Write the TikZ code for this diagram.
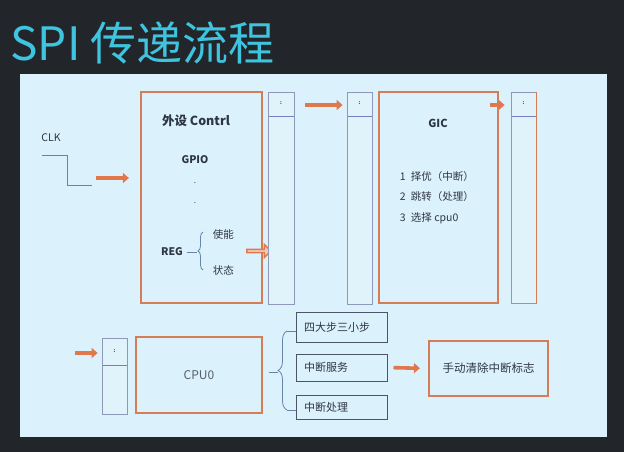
\documentclass[tikz,border=0pt]{standalone}
\usepackage{fontspec}
\setmainfont{Noto Sans CJK SC}
\usetikzlibrary{arrows.meta, positioning, calc, decorations.pathreplacing, shapes.arrows}
\definecolor{slate}{HTML}{22262A}
\definecolor{panel}{HTML}{DBF1FB}
\definecolor{qfill}{HTML}{E0F3FB}
\definecolor{titlecyan}{HTML}{3FC4DF}
\definecolor{rust}{HTML}{D57D55}
\definecolor{arrowor}{HTML}{E0784C}
\definecolor{steel}{HTML}{8E98B8}
\definecolor{divblue}{HTML}{6F82C2}
\definecolor{ink}{HTML}{2E3644}
\definecolor{clkblue}{HTML}{6785A8}
\definecolor{boxgray}{HTML}{4C5566}

\begin{document}
\begin{tikzpicture}[x=1pt, y=-1pt, line width=1pt,
  orangebox/.style={draw=rust, line width=2.2pt, inner sep=0pt},
  queue/.style={draw=steel, line width=0.8pt, fill=qfill, inner sep=0pt,
    path picture={\draw[divblue, line width=1pt]
      ([yshift=-24pt]path picture bounding box.north west) --
      ([yshift=-24pt]path picture bounding box.north east);}},
  dotmark/.style={font=\tiny\bfseries, text=ink, inner sep=0pt},
  stepbox/.style={draw=boxgray, line width=1pt, text width=75pt, inner xsep=8pt,
    align=left, font=\fontsize{11}{12}\selectfont, text=ink},
  txt/.style={font=\fontsize{10.5}{12}\selectfont, text=ink},
  fat/.style={draw=arrowor, line width=3.6pt, -{Triangle[length=6pt, width=10pt]}}]

% Background
\fill[slate] (0,0) rectangle (624,452);
\fill[panel] (20,74) rectangle (607,437);

% Title
\node[anchor=base west, font=\fontsize{46}{46}\selectfont, text=titlecyan, inner sep=0pt]
  (title) at (10,61) {SPI 传递流程};

% --- CLK ---
\node[txt] (clk) at (51,138) {CLK};
\draw[clkblue, line width=1pt] (42,155) -- (67,155) -- (67,185) -- (92,185);
\coordinate (clkout) at (96,178);

% --- Peripheral controller ---
\node[orangebox, minimum width=121, minimum height=211] (periph) at (201.5,197.5) {};
\node[font=\fontsize{12.5}{14}\selectfont\bfseries, text=ink] (ptitle) at (196,121) {外设 Contrl};
\node[txt, font=\fontsize{10.5}{12}\selectfont\bfseries] (gpio) at (195,160) {GPIO};
\node[dotmark] (dot1) at (195,183) {.};
\node[dotmark] (dot2) at (195,203) {.};
\node[txt, font=\fontsize{10.5}{12}\selectfont\bfseries] (reg) at (172,252) {REG};
\draw[clkblue, line width=0.8pt, decorate, decoration={brace, amplitude=5pt}]
  (203,270) -- (203,232);
\draw[clkblue, line width=0.8pt] (reg.east) -- (197,252);
\node[txt, anchor=west] (enable) at (209,235) {使能};
\node[txt, anchor=west] (status) at (209,270) {状态};
\node[single arrow, draw=arrowor, fill=arrowor!40, line width=1.4pt,
  minimum height=24pt, minimum width=13pt, single arrow head extend=2pt,
  inner sep=0pt] (regout) at (258,251) {};

% --- Queues and GIC ---
\node[queue, minimum width=26, minimum height=212] (q1) at (281,198) {};
\node[queue, minimum width=25, minimum height=212] (q2) at (359.5,198) {};
\node[orangebox, minimum width=119, minimum height=211] (gic) at (438.5,197.5) {};
\node[queue, minimum width=25, minimum height=211] (q3) at (523.5,197.5) {};
\draw[rust, line width=1pt] (q3.north east) -- (q3.south east);
\node[dotmark] (q1c) at ([yshift=-12pt]q1.north) {:};
\node[dotmark] (q2c) at ([yshift=-12pt]q2.north) {:};
\node[dotmark] (q3c) at ([yshift=-12pt]q3.north) {:};

\coordinate (gicin) at (305,105);
\coordinate (gicout) at (490,105);
\draw[fat, shorten >=11pt] (clkout) -- (clkout -| periph.west);
\draw[fat, shorten >=4pt] (gicin) -- (gicin -| q2.west);
\draw[fat, shorten >=6pt] (gicout) -- (gicout -| q3.west);

\node[font=\fontsize{11}{12}\selectfont\bfseries, text=ink] (gictitle) at (438,123) {GIC};
\node[txt, anchor=west] (g1) at (396,177) {1\enspace 择优（中断）};
\node[txt, anchor=west] (g2) at (396,197) {2\enspace 跳转（处理）};
\node[txt, anchor=west] (g3) at (396,218) {3\enspace 选择 cpu0};

% --- CPU0 ---
\node[queue, minimum width=25, minimum height=76,
  path picture={\draw[divblue, line width=1pt]
    ([yshift=-27pt]path picture bounding box.north west) --
    ([yshift=-27pt]path picture bounding box.north east);}] (q4) at (114.5,376) {};
\node[dotmark] (q4c) at ([yshift=-14pt]q4.north) {:};
\coordinate (cpuin) at (75,353);
\draw[fat, shorten >=4pt] (cpuin) -- (cpuin -| q4.west);
\node[orangebox, minimum width=126, minimum height=76,
  font=\fontsize{12}{13}\selectfont, text=ink!80] (cpu) at (199,375) {CPU0};

% --- Interrupt handling ---
\node[stepbox, minimum height=30] (step1) at (341.5,327) {四大步三小步};
\node[stepbox, minimum height=27] (step2) at (341.5,367.5) {中断服务};
\node[stepbox, minimum height=24] (step3) at (341.5,407) {中断处理};
\draw[clkblue, line width=0.8pt, decorate, decoration={brace, amplitude=9pt}]
  (287,410) -- (287,331);
\draw[clkblue, line width=0.8pt] (269,372) -- (278,372);
\coordinate (brtop) at (287,331);
\coordinate (brbot) at (287,410);
\draw[clkblue, line width=0.8pt] (brtop) -- (brtop -| step1.west);
\draw[clkblue, line width=0.8pt] (brbot) -- (brbot -| step3.west);

\node[orangebox, minimum width=119, minimum height=55, txt,
  font=\fontsize{11.5}{13}\selectfont] (clear) at (488.5,368.5) {手动清除中断标志};
\draw[fat, shorten <=6pt, shorten >=8pt] (step2.east) -- (clear.west);

\end{tikzpicture}
\end{document}
